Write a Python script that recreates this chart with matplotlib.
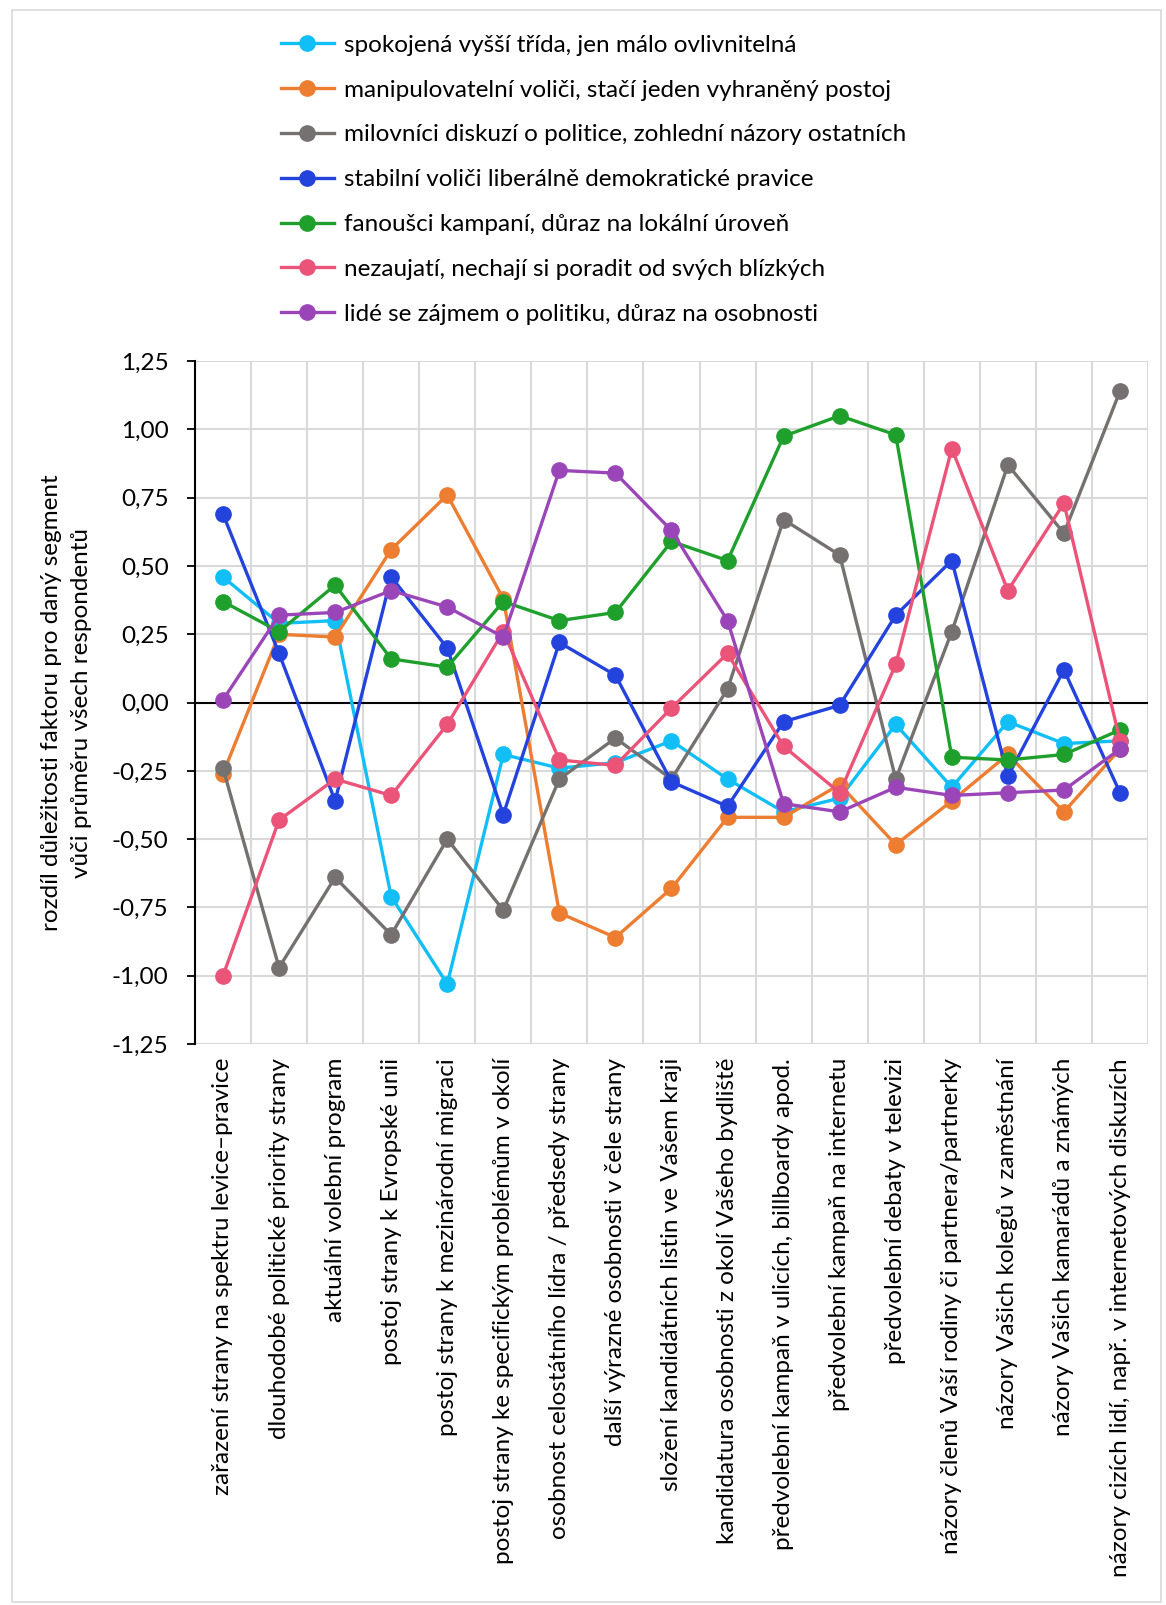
import matplotlib.pyplot as plt
from matplotlib.patches import Rectangle
from matplotlib.ticker import FixedLocator

plt.rcParams['font.family'] = ['Lato', 'DejaVu Sans']

categories = [
    "zařazení strany na spektru levice–pravice",
    "dlouhodobé politické priority strany",
    "aktuální volební program",
    "postoj strany k Evropské unii",
    "postoj strany k mezinárodní migraci",
    "postoj strany ke specifickým problémům v okolí",
    "osobnost celostátního lídra / předsedy strany",
    "další výrazné osobnosti v čele strany",
    "složení kandidátních listin ve Vašem kraji",
    "kandidatura osobnosti z okolí Vašeho bydliště",
    "předvolební kampaň v ulicích, billboardy apod.",
    "předvolební kampaň na internetu",
    "předvolební debaty v televizi",
    "názory členů Vaší rodiny či partnera/partnerky",
    "názory Vašich kolegů v zaměstnání",
    "názory Vašich kamarádů a známých",
    "názory cizích lidí, např. v internetových diskuzích",
]

series_names = [
    "spokojená vyšší třída, jen málo ovlivnitelná",
    "manipulovatelní voliči, stačí jeden vyhraněný postoj",
    "milovníci diskuzí o politice, zohlední názory ostatních",
    "stabilní voliči liberálně demokratické pravice",
    "fanoušci kampaní, důraz na lokální úroveň",
    "nezaujatí, nechají si poradit od svých blízkých",
    "lidé se zájmem o politiku, důraz na osobnosti",
]

spokojena = [0.46, 0.29, 0.30, -0.71, -1.03, -0.19, -0.24, -0.22, -0.14, -0.28,
             -0.40, -0.35, -0.08, -0.31, -0.07, -0.15, -0.14]
manipulovatelni = [-0.26, 0.25, 0.24, 0.56, 0.76, 0.38, -0.77, -0.86, -0.68, -0.42,
                   -0.42, -0.30, -0.52, -0.36, -0.19, -0.40, -0.17]
milovnici = [-0.24, -0.97, -0.64, -0.85, -0.50, -0.76, -0.28, -0.13, -0.28, 0.05,
             0.67, 0.54, -0.28, 0.26, 0.87, 0.62, 1.14]
stabilni = [0.69, 0.18, -0.36, 0.46, 0.20, -0.41, 0.22, 0.10, -0.29, -0.38,
            -0.07, -0.01, 0.32, 0.52, -0.27, 0.12, -0.33]
fanousci = [0.37, 0.26, 0.43, 0.16, 0.13, 0.37, 0.30, 0.33, 0.59, 0.52,
            0.975, 1.05, 0.98, -0.20, -0.21, -0.19, -0.10]
nezaujati = [-1.00, -0.43, -0.28, -0.34, -0.08, 0.26, -0.21, -0.23, -0.02, 0.18,
             -0.16, -0.33, 0.14, 0.93, 0.41, 0.73, -0.14]
lide = [0.01, 0.32, 0.33, 0.41, 0.35, 0.24, 0.85, 0.84, 0.63, 0.30,
        -0.37, -0.40, -0.31, -0.34, -0.33, -0.32, -0.17]

values = [spokojena, manipulovatelni, milovnici, stabilni, fanousci, nezaujati, lide]
colors = ["#12BEF6", "#ED7D31", "#767171", "#2443DD", "#1FA02D", "#EB5479", "#9B46B8"]

fs = 17.5

fig = plt.figure(figsize=(11.66, 16.05), dpi=100)
ax = fig.add_axes([0.1672, 0.3495, 0.8174, 0.4255])

x = list(range(len(categories)))
handles = []
for name, vals, col in zip(series_names, values, colors):
    h, = ax.plot(x, vals, color=col, lw=2.4, marker='o', markersize=11,
                 label=name, zorder=3)
    handles.append(h)

ax.set_xlim(-0.5, len(categories) - 0.5)
ax.set_ylim(-1.25, 1.25)
yt = [-1.25 + 0.25 * i for i in range(11)]
ax.set_yticks(yt)
ax.set_yticklabels([f"{v:.2f}".replace('.', ',') for v in yt], fontsize=fs)
ax.yaxis.grid(True, color='#D9D9D9', lw=1.5, zorder=0)

# category boundaries as vertical grid
ax.xaxis.set_minor_locator(FixedLocator([i - 0.5 for i in range(len(categories) + 1)]))
ax.xaxis.grid(True, which='minor', color='#D9D9D9', lw=1.5, zorder=0)
ax.set_xticks(x)
ax.set_xticklabels(categories, rotation=90, fontsize=fs, ha='center', va='top')
ax.tick_params(axis='x', which='both', length=0, pad=10)
ax.tick_params(axis='y', length=6, width=1.3, color='black', pad=13)

ax.axhline(0, color='black', lw=1.5, zorder=2)
for s in ['top', 'right', 'bottom']:
    ax.spines[s].set_visible(False)
ax.spines['left'].set_linewidth(1.5)
ax.spines['left'].set_zorder(4)

ax.set_ylabel("rozdíl důležitosti faktoru pro daný segment\nvůči průměru všech respondentů",
              fontsize=fs, labelpad=14, linespacing=1.55)

fig.legend(handles=handles, loc='upper left', bbox_to_anchor=(0.222, 0.992),
           frameon=False, fontsize=fs, handlelength=2.2, handletextpad=0.4,
           labelspacing=0.98)

fig.patches.append(Rectangle((0.0105, 0.002), 0.985, 0.992, transform=fig.transFigure,
                             fill=False, edgecolor='#D9D9D9', lw=1.2))

fig.savefig("out.png", dpi=100)
